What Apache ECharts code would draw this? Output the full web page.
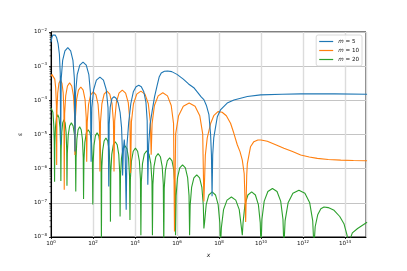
<!DOCTYPE html>
<html><head><meta charset="utf-8">
<script src="https://cdn.jsdelivr.net/npm/echarts@6/dist/echarts.min.js"></script>
<style>html,body{margin:0;padding:0;background:#fff}#c{width:407px;height:271px}</style>
</head><body><div id="c"></div>
<script>
// Data, stored as [log10(x), log10(epsilon)] pairs.
const seriesNames = ['m = 5', 'm = 10', 'm = 20'];
const seriesColors = ['#1f77b4', '#ff7f0e', '#2ca02c'];
const xTickExps = [0, 2, 4, 6, 8, 10, 12, 14];
const yTickExps = [-8, -7, -6, -5, -4, -3, -2];

const m5Log = [
[0,-2.3],[0.04,-2.16],[0.09,-2.09],[0.14,-2.07],[0.2,-2.09],[0.27,-2.17],[0.34,-2.35],[0.4,-2.65],[0.44,-3.2],[0.46,-5.3],
[0.487,-3.36],[0.555,-2.83],[0.664,-2.55],[0.8,-2.46],[0.936,-2.55],[1.045,-2.83],[1.113,-3.36],[1.14,-5.5],
[1.171,-3.78],[1.248,-3.25],[1.371,-2.97],[1.525,-2.88],[1.679,-2.97],[1.802,-3.25],[1.879,-3.78],[1.91,-5.8],
[1.944,-4.22],[2.028,-3.69],[2.162,-3.41],[2.33,-3.32],[2.498,-3.41],[2.632,-3.69],[2.716,-4.22],[2.75,-6.52],
[2.77,-4.7],[2.82,-4.2],[2.9,-3.95],[3.0,-3.89],[3.1,-3.94],[3.2,-4.08],[3.29,-4.35],[3.36,-4.8],[3.395,-5.4],[3.41,-6.2],
[3.45,-5.4],[3.49,-5.15],[3.53,-5.5],[3.58,-7.2],
[3.62,-5.3],[3.7,-4.65],[3.8,-4.1],[3.92,-3.75],[4.05,-3.6],[4.18,-3.56],[4.3,-3.6],[4.42,-3.75],[4.52,-4.05],[4.58,-4.6],[4.61,-6.47],
[4.65,-5.3],[4.72,-4.7],[4.82,-4.3],[4.93,-3.9],[5.05,-3.58],[5.15,-3.32],[5.25,-3.2],[5.4,-3.15],[5.55,-3.14],[5.75,-3.16],[6.0,-3.24],[6.3,-3.38],[6.55,-3.52],[6.8,-3.63],[7.0,-3.78],[7.15,-3.9],[7.28,-3.98],[7.4,-4.15],[7.52,-4.42],[7.6,-5.0],[7.64,-5.6],[7.67,-6.81],
[7.7,-5.6],[7.75,-5.1],[7.84,-4.77],[7.92,-4.48],[8.07,-4.28],[8.39,-4.08],[8.71,-3.99],[9.35,-3.89],[9.98,-3.84],[11.0,-3.82],[11.9,-3.81],[13.5,-3.81],[15.05,-3.82]
];

const m10Log = [
[0,-3.3],[0.04,-3.24],[0.085,-3.22],[0.13,-3.25],[0.18,-3.38],[0.222,-3.62],[0.257,-4.14],[0.27,-5.89],
[0.284,-4.31],[0.32,-3.78],[0.378,-3.5],[0.45,-3.41],[0.522,-3.5],[0.58,-3.78],[0.616,-4.31],[0.63,-6.62],
[0.65,-4.39],[0.701,-3.86],[0.783,-3.58],[0.885,-3.49],[0.987,-3.58],[1.069,-3.86],[1.12,-4.39],[1.14,-5.6],
[1.162,-4.51],[1.218,-3.98],[1.308,-3.7],[1.42,-3.61],[1.532,-3.7],[1.622,-3.98],[1.678,-4.51],[1.7,-5.8],
[1.725,-4.65],[1.788,-4.12],[1.889,-3.84],[2.015,-3.75],[2.141,-3.84],[2.242,-4.12],[2.305,-4.65],[2.33,-6.08],
[2.357,-4.63],[2.424,-4.1],[2.531,-3.82],[2.665,-3.73],[2.799,-3.82],[2.906,-4.1],[2.973,-4.63],[3.0,-6.08],
[3.032,-4.6],[3.111,-4.07],[3.237,-3.79],[3.395,-3.7],[3.553,-3.79],[3.679,-4.07],[3.758,-4.6],[3.79,-6.13],
[3.829,-4.63],[3.927,-4.1],[4.084,-3.82],[4.28,-3.73],[4.476,-3.82],[4.633,-4.1],[4.731,-4.63],[4.77,-5.59],
[4.814,-4.68],[4.925,-4.15],[5.103,-3.87],[5.325,-3.78],[5.547,-3.87],[5.725,-4.15],[5.836,-4.68],[5.88,-7.84],
[5.936,-4.98],[6.076,-4.45],[6.3,-4.17],[6.58,-4.08],[6.86,-4.17],[7.084,-4.45],[7.224,-4.98],[7.28,-6.96],
[7.35,-5.6],[7.44,-5.1],[7.6,-4.68],[7.75,-4.45],[7.95,-4.33],[8.15,-4.35],[8.35,-4.45],[8.55,-4.67],[8.7,-4.95],[8.87,-5.3],[9.0,-5.5],[9.11,-5.75],[9.2,-6.15],[9.27,-7.56],
[9.32,-6.2],[9.35,-5.85],[9.5,-5.36],[9.66,-5.21],[9.85,-5.16],[10.0,-5.16],[10.3,-5.2],[10.7,-5.3],[11.09,-5.4],[11.5,-5.5],[11.89,-5.6],[12.3,-5.66],[12.68,-5.7],[13.2,-5.73],[13.8,-5.75],[14.4,-5.76],[15.05,-5.77]
];

const m20Log = [
[0,-4.22],[0.04,-4.2],[0.09,-4.35],[0.13,-4.7],[0.155,-5.2],[0.17,-6.38],
[0.182,-5.32],[0.212,-4.79],[0.26,-4.51],[0.32,-4.42],[0.38,-4.51],[0.428,-4.79],[0.458,-5.32],[0.47,-6.36],
[0.482,-5.47],[0.511,-4.94],[0.557,-4.66],[0.615,-4.57],[0.673,-4.66],[0.719,-4.94],[0.748,-5.47],[0.76,-6.5],
[0.777,-5.56],[0.819,-5.03],[0.886,-4.75],[0.97,-4.66],[1.054,-4.75],[1.121,-5.03],[1.163,-5.56],[1.18,-6.67],
[1.195,-5.67],[1.232,-5.14],[1.291,-4.86],[1.365,-4.77],[1.439,-4.86],[1.498,-5.14],[1.535,-5.67],[1.55,-6.89],
[1.568,-5.76],[1.612,-5.23],[1.682,-4.95],[1.77,-4.86],[1.858,-4.95],[1.928,-5.23],[1.972,-5.76],[1.99,-7.05],
[2.006,-5.85],[2.047,-5.32],[2.113,-5.04],[2.195,-4.95],[2.277,-5.04],[2.343,-5.32],[2.384,-5.85],[2.4,-8.3],
[2.417,-6.0],[2.46,-5.47],[2.529,-5.19],[2.615,-5.1],[2.701,-5.19],[2.77,-5.47],[2.813,-6.0],[2.83,-7.55],
[2.848,-6.11],[2.894,-5.58],[2.968,-5.3],[3.06,-5.21],[3.152,-5.3],[3.226,-5.58],[3.272,-6.11],[3.29,-7.4],
[3.309,-6.23],[3.356,-5.7],[3.431,-5.42],[3.525,-5.33],[3.619,-5.42],[3.694,-5.7],[3.741,-6.23],[3.76,-7.5],
[3.781,-6.3],[3.833,-5.77],[3.916,-5.49],[4.02,-5.4],[4.124,-5.49],[4.207,-5.77],[4.259,-6.3],[4.28,-7.95],
[4.302,-6.38],[4.357,-5.85],[4.445,-5.57],[4.555,-5.48],[4.665,-5.57],[4.753,-5.85],[4.808,-6.38],[4.83,-7.95],
[4.852,-6.46],[4.906,-5.93],[4.992,-5.65],[5.1,-5.56],[5.208,-5.65],[5.294,-5.93],[5.348,-6.46],[5.37,-8.3],
[5.392,-6.58],[5.448,-6.05],[5.538,-5.77],[5.65,-5.68],[5.762,-5.77],[5.852,-6.05],[5.908,-6.58],[5.93,-7.95],
[5.957,-6.79],[6.024,-6.26],[6.131,-5.98],[6.265,-5.89],[6.399,-5.98],[6.506,-6.26],[6.573,-6.79],[6.6,-7.95],
[6.627,-7.08],[6.695,-6.55],[6.804,-6.27],[6.94,-6.18],[7.076,-6.27],[7.185,-6.55],[7.253,-7.08],[7.28,-7.75],
[7.312,-7.58],[7.391,-7.05],[7.517,-6.77],[7.675,-6.68],[7.833,-6.77],[7.959,-7.05],[8.038,-7.58],[8.07,-8.3],
[8.112,-7.73],[8.216,-7.2],[8.382,-6.92],[8.59,-6.83],[8.798,-6.92],[8.964,-7.2],[9.068,-7.73],[9.11,-7.95],
[9.146,-7.58],[9.235,-7.05],[9.377,-6.77],[9.555,-6.68],[9.733,-6.77],[9.875,-7.05],[9.964,-7.58],[10.0,-8.3],
[10.044,-7.48],[10.153,-6.95],[10.327,-6.67],[10.545,-6.58],[10.763,-6.67],[10.937,-6.95],[11.046,-7.48],[11.09,-8.3],
[11.147,-7.53],[11.29,-7.0],[11.519,-6.72],[11.805,-6.63],[12.091,-6.72],[12.32,-7.0],[12.463,-7.53],[12.52,-8.3],
[12.58,-7.7],[12.7,-7.35],[12.85,-7.17],[13.0,-7.12],[13.2,-7.14],[13.48,-7.22],[13.75,-7.4],[13.95,-7.61],[14.1,-7.95],[14.19,-8.3],
[14.25,-8.05],[14.35,-7.88],[14.6,-7.75],[15.05,-7.57]
];

const allLog = [m5Log, m10Log, m20Log];
const toLinear = arr => arr.map(p => [Math.pow(10, p[0]), Math.pow(10, p[1])]);

// minor tick values on the y axis (2..9 x each decade)
const yMinor = [];
yTickExps.slice(0, -1).forEach(e => { for (let k = 2; k <= 9; k++) yMinor.push([1, k * Math.pow(10, e)]); });

const FONT = 'DejaVu Sans';
function supLabel(v) {
  const e = Math.round(Math.log10(v));
  const s = e < 0 ? '\u2212' + (-e) : String(e);
  return '{b|10}{s|' + s + '}';
}
const rich = {
  b: { fontSize: 5.6, fontFamily: FONT, color: '#111' },
  s: { fontSize: 4, fontFamily: FONT, color: '#111', padding: [0, 0, 4, 0] }
};

const chart = echarts.init(document.getElementById('c'), null, { renderer: 'canvas' });
const series = allLog.map((arr, i) => ({
  name: seriesNames[i], type: 'line', data: toLinear(arr), showSymbol: false, symbol: 'none',
  lineStyle: { color: seriesColors[i], width: 1.1 }, itemStyle: { color: seriesColors[i] },
  clip: true, animation: false, z: 3 + (2 - i)
}));
series.push({
  type: 'custom', name: 'minor', data: yMinor, silent: true, clip: false, animation: false,
  renderItem: (params, api) => {
    const p = api.coord([api.value(0), api.value(1)]);
    return { type: 'line', shape: { x1: p[0] - 1.5, y1: p[1], x2: p[0], y2: p[1] }, style: { stroke: '#000', lineWidth: 0.6 } };
  }
});

chart.setOption({
  animation: false,
  backgroundColor: '#fff',
  grid: { left: 51, top: 32, right: 41, bottom: 34, show: true, borderColor: '#000', borderWidth: 1, backgroundColor: 'transparent' },
  legend: {
    data: seriesNames, orient: 'vertical', right: 45, top: 35,
    icon: 'rect', itemWidth: 14, itemHeight: 1.2, itemGap: 2,
    padding: [3, 3, 3, 3], borderColor: '#d0d0d0', borderWidth: 0.8, borderRadius: 2,
    backgroundColor: 'rgba(255,255,255,0.85)',
    formatter: n => '{i|m} = ' + n.split('= ')[1],
    textStyle: { fontSize: 5.6, fontFamily: FONT, color: '#111', lineHeight: 7,
      rich: { i: { fontStyle: 'italic', fontSize: 5.6, fontFamily: FONT, color: '#111' } } }
  },
  xAxis: {
    type: 'log', logBase: 10, min: 1, max: 1e15, interval: 2,
    name: 'x', nameLocation: 'middle', nameGap: 15,
    nameTextStyle: { fontStyle: 'italic', fontSize: 6, fontFamily: FONT, color: '#111' },
    axisLine: { show: true, onZero: false, lineStyle: { color: '#000', width: 1 } },
    axisTick: { show: true, length: 2, lineStyle: { color: '#000', width: 0.8 } },
    axisLabel: { formatter: supLabel, rich: rich, margin: 3, showMaxLabel: false, showMinLabel: true },
    splitLine: { show: true, lineStyle: { color: '#dcdcdc', width: 1.4 } },
    minorTick: { show: false }
  },
  yAxis: {
    type: 'log', logBase: 10, min: 1e-8, max: 1e-2, interval: 1,
    name: '\u03b5', nameLocation: 'middle', nameGap: 24,
    nameTextStyle: { fontSize: 6, fontFamily: FONT, color: '#111' },
    axisLine: { show: true, onZero: false, lineStyle: { color: '#000', width: 1 } },
    axisTick: { show: true, length: 2, lineStyle: { color: '#000', width: 0.8 } },
    axisLabel: { formatter: supLabel, rich: rich, margin: 4 },
    splitLine: { show: true, lineStyle: { color: '#c4c4c4', width: 1 } }
  },
  series: series
});
</script>
</body></html>
